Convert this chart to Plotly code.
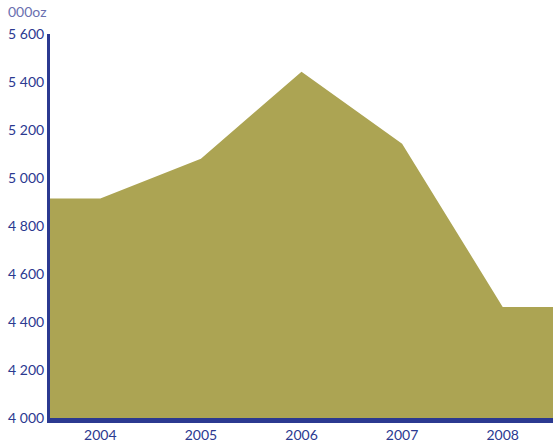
import plotly.graph_objects as go

years = ["2004", "2005", "2006", "2007", "2008"]
production = [4915, 5080, 5443, 5143, 4463]
y_ticks = [4000, 4200, 4400, 4600, 4800, 5000, 5200, 5400, 5600]
unit_label = "000oz"

n = len(years)
xs = [-0.5] + list(range(n)) + [n - 0.5]
ys = [production[0]] + production + [production[-1]]

navy = "#2b3990"
fig = go.Figure()
fig.add_trace(go.Scatter(
    x=xs, y=ys, mode="lines", fill="tozeroy",
    fillcolor="#aca453", line=dict(width=0, color="#aca453"),
    hoverinfo="skip", showlegend=False,
))

fig.update_layout(
    width=553, height=444,
    margin=dict(l=50, r=0, t=34, b=26),
    paper_bgcolor="white", plot_bgcolor="white",
    separators=". ",
    font=dict(family="Lato, sans-serif", size=14, color=navy),
    xaxis=dict(
        range=[-0.5, n - 0.5], tickvals=list(range(n)), ticktext=years,
        showgrid=False, zeroline=False, showline=True, linecolor=navy, linewidth=5,
        ticks="", tickfont=dict(size=14, color=navy),
    ),
    yaxis=dict(
        range=[4000, 5600], tickvals=y_ticks, tickformat=",d",
        showgrid=False, zeroline=False, showline=True, linecolor=navy, linewidth=3,
        ticks="", tickfont=dict(size=14, color=navy),
    ),
    annotations=[dict(
        text=unit_label, xref="paper", yref="paper", x=-0.087, y=1.0, yshift=12,
        xanchor="left", yanchor="bottom", showarrow=False,
        font=dict(size=14, color="#6a70b0"),
    )],
)

fig.write_html("out.html", config={"displayModeBar": False},
               post_script="document.body.style.margin='0';document.body.style.overflow='hidden';")
